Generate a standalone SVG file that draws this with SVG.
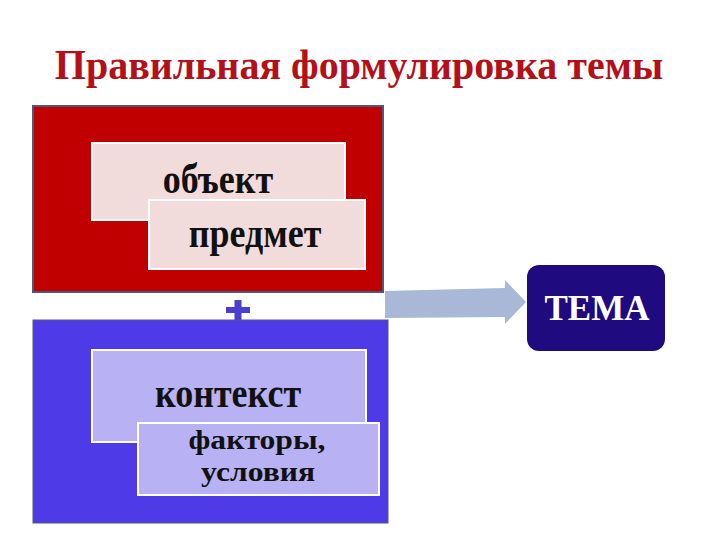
<svg xmlns="http://www.w3.org/2000/svg" width="720" height="540" viewBox="0 0 720 540">
<style>
.t{font-family:"Liberation Serif","Times New Roman",serif;font-weight:bold;text-anchor:middle;fill:#111}
.inR{fill:#f2dcdb;stroke:#ffffff;stroke-width:2}
.inB{fill:#b8b2f4;stroke:#ffffff;stroke-width:2}
</style>
<rect width="720" height="540" fill="#ffffff"/>
<text transform="translate(359,79) scale(1,1.08)" font-family="Liberation Serif, serif" font-weight="bold" font-size="40" fill="#b3101a" text-anchor="middle">Правильная формулировка темы</text>
<g id="subject">
<rect x="33" y="106" width="350" height="186" fill="#c00000" stroke="#4c5a78" stroke-width="2"/>
<g id="object"><rect class="inR" x="92" y="143" width="253" height="77"/><text class="t" transform="translate(218,193) scale(1,1.15)" font-size="36">объект</text></g>
<g id="predmet"><rect class="inR" x="149" y="200" width="216" height="69"/><text class="t" transform="translate(255,247) scale(1,1.15)" font-size="36">предмет</text></g>
</g>
<g id="plus"><rect x="226" y="307" width="24" height="6" fill="#4b3fd0"/><rect x="234.5" y="300" width="7" height="20" fill="#4b3fd0"/></g>
<g id="context">
<rect x="33" y="320" width="355" height="203" fill="#4f3ae8" stroke="#4c5a78" stroke-width="1"/>
<g id="kontekst"><rect class="inB" x="92" y="350" width="274" height="92"/><text class="t" transform="translate(228,407) scale(1,1.15)" font-size="36">контекст</text></g>
<g id="factors"><rect class="inB" x="138" y="423" width="241" height="72"/><text class="t" transform="translate(257,0) scale(1.13,1)" font-size="28"><tspan x="0" y="449">факторы,</tspan><tspan x="1" y="481">условия</tspan></text></g>
</g>
<g id="connectors"><path d="M385 291 L505 288 L505 280 L526 302 L505 324 L505 317 L385 318 Z" fill="#a8b8d6"/></g>
<g id="tema"><rect x="527" y="265" width="138" height="86" rx="12" fill="#1f0a80"/><text x="597" y="320" font-family="Liberation Serif, serif" font-weight="bold" font-size="35" fill="#ffffff" text-anchor="middle">ТЕМА</text></g>
</svg>
